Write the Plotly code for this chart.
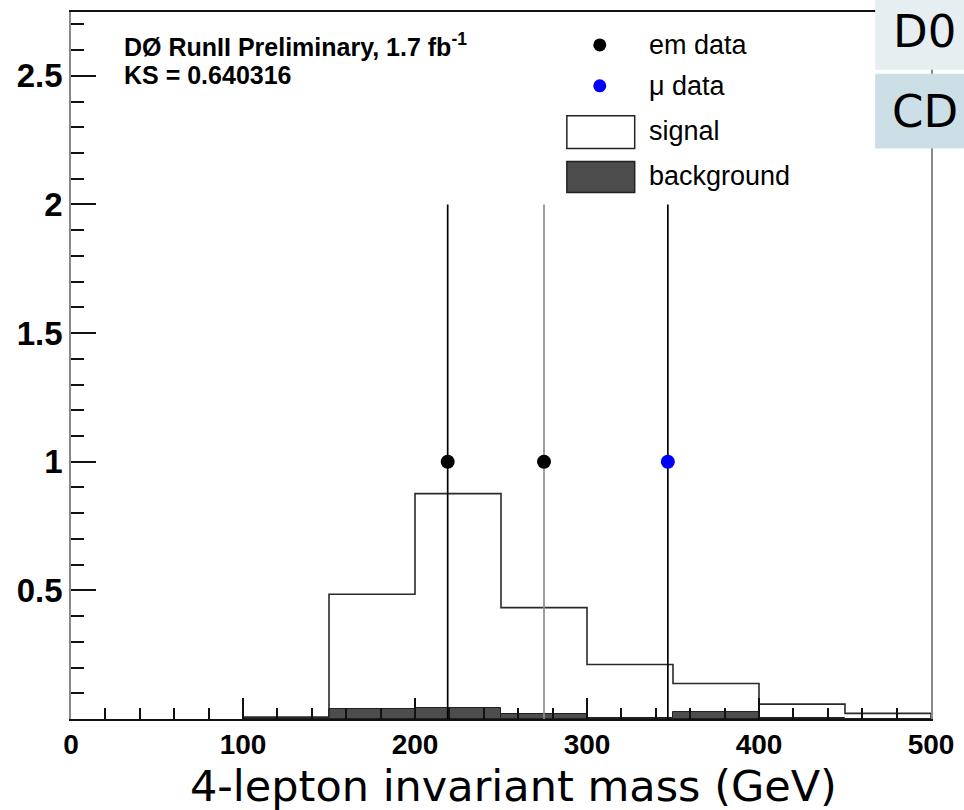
import plotly.graph_objects as go

# ---- data ----
bin_edges = [100, 150, 200, 250, 300, 350, 400, 450, 500]
signal = [0.008, 0.485, 0.876, 0.433, 0.212, 0.138, 0.058, 0.022]
background = [0.004, 0.038, 0.042, 0.020, 0.004, 0.026, 0.003, 0.0]

em_x = [219, 275]
em_y = [1, 1]
em_err_lo = [1, 1]
em_err_hi = [1, 1]
mu_x = [347]
mu_y = [1]
mu_err_lo = [1]
mu_err_hi = [1]

x_ticks = [0, 100, 200, 300, 400, 500]
y_ticks = [0.5, 1, 1.5, 2, 2.5]
y_tick_text = ["0.5", "1", "1.5", "2", "2.5"]

# ---- geometry helpers (plot area in pixels) ----
L, R, T, B = 71, 933, 10, 719
W, H = R - L, B - T


def px(x):
    return (x - L) / W


def py(y):
    return (B - y) / H


fig = go.Figure()

# background (filled histogram)
centers = [(a + b) / 2 for a, b in zip(bin_edges[:-1], bin_edges[1:])]
widths = [b - a for a, b in zip(bin_edges[:-1], bin_edges[1:])]
fig.add_trace(go.Bar(x=centers, y=background, width=widths,
                     marker=dict(color="#4d4d4d", line=dict(color="#222222", width=1)),
                     showlegend=False, hoverinfo="skip"))

# signal (step outline)
step_x, step_y = [bin_edges[0]], [0]
for i in range(len(signal)):
    step_x += [bin_edges[i], bin_edges[i + 1]]
    step_y += [signal[i], signal[i]]
step_x.append(bin_edges[-1])
step_y.append(0)
fig.add_trace(go.Scatter(x=step_x, y=step_y, mode="lines",
                         line=dict(color="#2a2a2a", width=1.6),
                         showlegend=False, hoverinfo="skip"))

# error bars (drawn as vertical lines)
err_colors = ["#000000", "#8c8c8c"]
for xv, yv, lo, hi, c in zip(em_x, em_y, em_err_lo, em_err_hi, err_colors):
    fig.add_trace(go.Scatter(x=[xv, xv], y=[yv - lo, yv + hi], mode="lines",
                             line=dict(color=c, width=1.7), showlegend=False, hoverinfo="skip"))
for xv, yv, lo, hi in zip(mu_x, mu_y, mu_err_lo, mu_err_hi):
    fig.add_trace(go.Scatter(x=[xv, xv], y=[yv - lo, yv + hi], mode="lines",
                             line=dict(color="#000000", width=1.7), showlegend=False, hoverinfo="skip"))

# data markers
fig.add_trace(go.Scatter(x=em_x, y=em_y, mode="markers",
                         marker=dict(color="black", size=14, symbol="circle"),
                         showlegend=False))
fig.add_trace(go.Scatter(x=mu_x, y=mu_y, mode="markers",
                         marker=dict(color="#0000ff", size=14, symbol="circle"),
                         showlegend=False))

shapes = []
annotations = []

# manual legend
for (cx, cy, col) in [(601, 43, "black"), (601, 84, "#0000ff")]:
    shapes.append(dict(type="circle", xref="paper", yref="paper",
                       xsizemode="pixel", ysizemode="pixel",
                       xanchor=px(cx), yanchor=py(cy),
                       x0=-6.5, x1=6.5, y0=-6.5, y1=6.5,
                       fillcolor=col, line=dict(width=0)))
shapes.append(dict(type="rect", xref="paper", yref="paper",
                   x0=px(568), x1=px(636), y0=py(147), y1=py(114),
                   fillcolor="white", line=dict(color="#222222", width=1.5)))
shapes.append(dict(type="rect", xref="paper", yref="paper",
                   x0=px(568), x1=px(636), y0=py(191), y1=py(160),
                   fillcolor="#4d4d4d", line=dict(color="#222222", width=1.5)))
for text, ty in [("em data", 43), ("\u03bc data", 84), ("signal", 129), ("background", 174)]:
    annotations.append(dict(text=text, xref="paper", yref="paper",
                            x=px(648), y=py(ty), xanchor="left", yanchor="middle",
                            showarrow=False,
                            font=dict(family="Liberation Sans, Arial", size=27, color="black")))

# top-left label
annotations.append(dict(text="<b>D\u00d8 RunII Preliminary, 1.7 fb<sup>-1</sup></b>",
                        xref="paper", yref="paper", x=px(122), y=py(43),
                        xanchor="left", yanchor="middle", showarrow=False,
                        font=dict(family="Liberation Sans, Arial", size=25, color="black")))
annotations.append(dict(text="<b>KS = 0.640316</b>",
                        xref="paper", yref="paper", x=px(122), y=py(73),
                        xanchor="left", yanchor="middle", showarrow=False,
                        font=dict(family="Liberation Sans, Arial", size=25, color="black")))

# x-axis title
annotations.append(dict(text="4-lepton invariant mass (GeV)", xref="paper", yref="paper",
                        x=px(515), y=py(786), xanchor="center", yanchor="middle",
                        showarrow=False,
                        font=dict(family="DejaVu Sans", size=43, color="black")))

# page overlay boxes at top right
shapes.append(dict(type="rect", xref="paper", yref="paper", layer="above",
                   x0=px(877), x1=px(970), y0=py(68), y1=py(-5),
                   fillcolor="#e6eef1", line=dict(width=0)))
shapes.append(dict(type="rect", xref="paper", yref="paper", layer="above",
                   x0=px(877), x1=px(970), y0=py(147), y1=py(72),
                   fillcolor="#cddfe6", line=dict(width=0)))
annotations.append(dict(text="D0", xref="paper", yref="paper", x=px(893), y=py(30),
                        xanchor="left", yanchor="middle", showarrow=False,
                        font=dict(family="DejaVu Sans", size=45, color="black")))
annotations.append(dict(text="CD", xref="paper", yref="paper", x=px(892), y=py(110),
                        xanchor="left", yanchor="middle", showarrow=False,
                        font=dict(family="DejaVu Sans", size=45, color="black")))

fig.update_layout(
    width=964, height=810,
    margin=dict(l=L, r=964 - R, t=T, b=810 - B),
    paper_bgcolor="white", plot_bgcolor="white",
    shapes=shapes, annotations=annotations,
    bargap=0, showlegend=False,
    xaxis=dict(range=[0, 500], tickvals=x_ticks, ticks="inside", ticklen=21,
               tickwidth=1.5, tickcolor="#111111",
               minor=dict(dtick=20, ticks="inside", ticklen=11, tickwidth=1.5, tickcolor="#111111"),
               showgrid=False, zeroline=False, showline=True, linecolor="#111111",
               linewidth=1.5, mirror=True,
               tickfont=dict(family="Liberation Sans, Arial", size=28, color="black", weight="bold")),
    yaxis=dict(range=[0, 2.748], tickvals=y_ticks, ticktext=y_tick_text, ticks="inside",
               ticklen=25, tickwidth=1.5, tickcolor="#111111",
               minor=dict(dtick=0.1, ticks="inside", ticklen=13, tickwidth=1.5, tickcolor="#111111"),
               showgrid=False, zeroline=False, showline=True, linecolor="#888888",
               linewidth=1.5, mirror=True,
               tickfont=dict(family="Liberation Sans, Arial", size=33, color="black", weight="bold")),
)

fig.write_html("out.html")
